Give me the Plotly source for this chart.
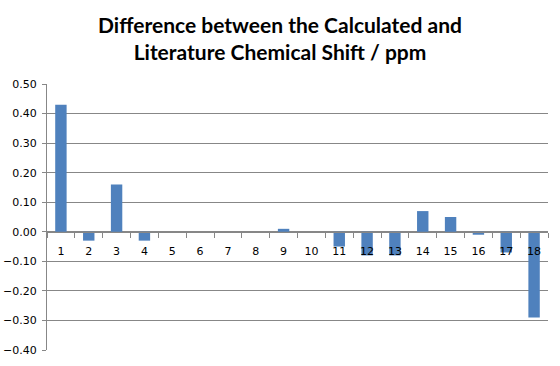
import plotly.graph_objects as go

categories = [str(i) for i in range(1, 19)]
differences = [0.43, -0.03, 0.16, -0.03, 0.0, 0.0, 0.0, 0.0, 0.01, 0.0,
               -0.05, -0.08, -0.08, 0.07, 0.05, -0.01, -0.07, -0.29]
y_ticks = [-0.4, -0.3, -0.2, -0.1, 0.0, 0.1, 0.2, 0.3, 0.4, 0.5]
y_min, y_max = -0.4, 0.5

fig = go.Figure()
fig.add_trace(go.Bar(x=categories, y=differences, marker=dict(color="#4F81BD", line=dict(width=0))))

grid = "#878787"
fig.update_layout(
    template="none",
    width=560, height=366,
    margin=dict(l=47, r=12, t=84, b=16, autoexpand=False),
    paper_bgcolor="white", plot_bgcolor="white",
    bargap=0.59,
    showlegend=False,
    title=dict(
        text="Difference between the Calculated and<br>Literature Chemical Shift / ppm",
        x=0.5, xanchor="center", y=0.91, yanchor="top",
        font=dict(family="Lato", size=21, color="black", weight="bold"),
    ),
    font=dict(family="DejaVu Sans", size=11, color="black"),
    xaxis=dict(
        type="category", anchor="free", automargin=False,
        position=(0 - y_min) / (y_max - y_min),
        showline=True, linecolor=grid, linewidth=1,
        ticks="outside", ticklen=5, tickcolor=grid, tickson="boundaries",
        ticklabelstandoff=9,
        showgrid=False, tickfont=dict(family="DejaVu Sans", size=11, color="black"),
        fixedrange=True,
    ),
    yaxis=dict(
        range=[y_min, y_max], tickvals=y_ticks, tickformat=".2f", automargin=False,
        showline=True, linecolor=grid, linewidth=1,
        ticks="outside", ticklen=4, tickcolor=grid,
        ticklabelstandoff=3,
        showgrid=True, gridcolor=grid, gridwidth=1, zeroline=False,
        tickfont=dict(family="DejaVu Sans", size=11, color="black"),
    ),
)
fig.write_html("out.html")
